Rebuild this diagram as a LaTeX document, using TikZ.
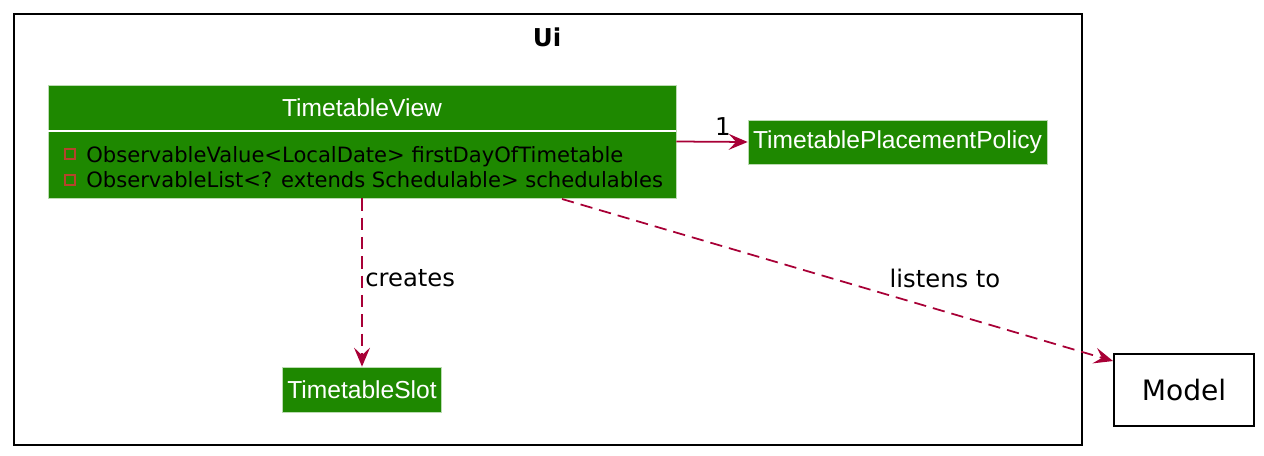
\documentclass[tikz,border=0pt]{standalone}
\usepackage{fontspec}
\setmainfont{DejaVu Sans}
\newfontfamily\clsfont{Liberation Sans}
\usetikzlibrary{arrows.meta,positioning,calc}
\definecolor{clsgreen}{RGB}{30,136,0}
\definecolor{relcolor}{RGB}{168,0,54}
\definecolor{iconcolor}{RGB}{181,68,44}

\begin{document}
\begin{tikzpicture}[x=0.02cm,y=-0.02cm,
    cls/.style={draw=white!70!clsgreen, fill=clsgreen, text=white, inner sep=0pt, font=\clsfont\fontsize{14}{16}\selectfont},
    clsname/.style={text=white, inner sep=0pt, font=\clsfont\fontsize{14}{16}\selectfont},
    rel/.style={relcolor, line width=1pt, -{Stealth[length=3.8mm,width=3.2mm,inset=1.5mm]}},
    dep/.style={rel, dash pattern=on 7pt off 4pt},
    lbl/.style={text=black, font=\fontsize{13.8}{16}\selectfont}]
  \useasboundingbox (0,0) rectangle (1264,456);
  % package frame
  \draw[line width=1.1pt] (14,14) rectangle (1082,445);
  \node[font=\bfseries\fontsize{14}{16}\selectfont] (ui) at (547,37) {Ui};
  % classes
  \node[cls, minimum width=12.56cm, minimum height=2.26cm] (tv) at (362,141.5) {};
  \draw[white, thick] (tv.west |- 0,131) -- (tv.east |- 0,131);
  \node[clsname] (tvname) at (362,108) {TimetableView};
  \node[anchor=west, align=left, inner sep=0pt, font=\fontsize{12}{14.6}\selectfont] (tvattr) at (86,167)
    {ObservableValue<LocalDate> firstDayOfTimetable\\ObservableList<? extends Schedulable> schedulables};
  \foreach \y in {154,180} {
    \draw[iconcolor, thick] (65,\y-5) rectangle (75,\y+5);
  }
  \node[cls, minimum width=5.98cm, minimum height=0.88cm] (tpp) at (897.5,142) {TimetablePlacementPolicy};
  \node[cls, minimum width=3.18cm, minimum height=0.9cm] (ts) at (362,389.5) {TimetableSlot};
  \node[draw, line width=1.1pt, minimum width=2.8cm, minimum height=1.44cm, font=\fontsize{16}{18}\selectfont] (model) at (1184,390) {Model};
  % relations
  \draw[rel] (tv.east) -- (tpp.west);
  \node[lbl, font=\fontsize{14}{16}\selectfont] (one) at (723,127) {1};
  \draw[dep] (tv.south) -- (ts.north);
  \node[lbl, anchor=west, inner sep=0pt] (creates) at (365,278) {creates};
  \coordinate (lstart) at (562,199);
  \coordinate (lend) at ($(model.north west)+(0,8)$);
  \draw[dep] (lstart) -- (lend);
  \node[lbl] (listens) at (945,278) {listens to};
\end{tikzpicture}
\end{document}
